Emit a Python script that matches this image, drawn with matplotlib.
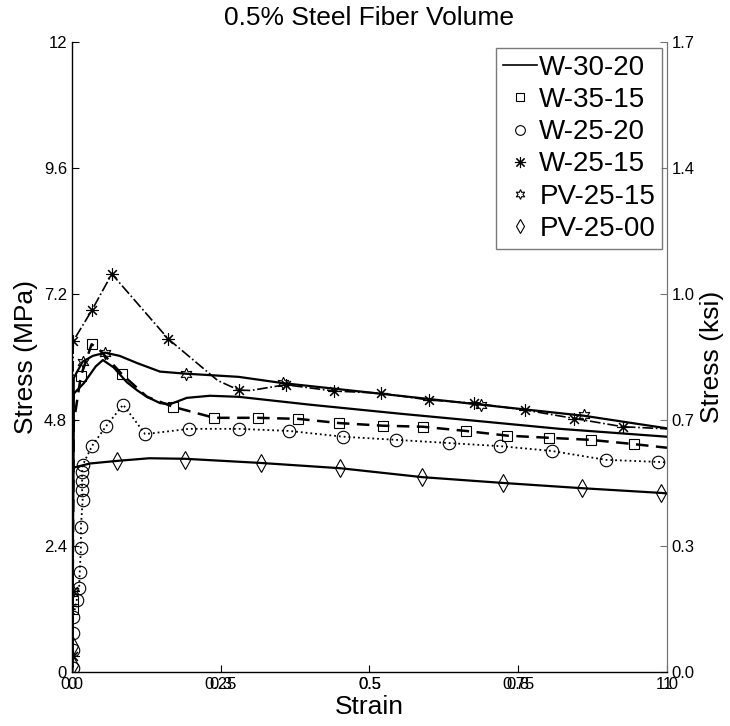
import matplotlib
matplotlib.use("Agg")
import matplotlib.pyplot as plt
from matplotlib.lines import Line2D

plt.rcParams["font.family"] = ["Liberation Sans", "DejaVu Sans"]

MPA_POR_KSI = 6.895

# W-30-20 (linha continua, sem marcador)
w3020_x = [0, 0.001, 0.003, 0.02, 0.04, 0.052, 0.07, 0.092, 0.11, 0.126, 0.148, 0.165,
           0.193, 0.232, 0.28, 0.4, 0.55, 0.7, 0.82, 1.0]
w3020_y = [0, 2.0, 5.3, 5.5, 5.82, 5.94, 5.8, 5.52, 5.36, 5.24, 5.12, 5.10,
           5.22, 5.26, 5.24, 5.09, 4.92, 4.76, 4.63, 4.48]

# W-35-15 (tracejada, quadrados)
w3515_x = [0, 0.001, 0.003, 0.015, 0.033, 0.045, 0.084, 0.126, 0.17, 0.239, 0.312, 0.38,
           0.449, 0.522, 0.59, 0.662, 0.732, 0.801, 0.872, 0.944, 1.0]
w3515_y = [0, 1.2, 4.75, 5.64, 6.24, 6.15, 5.67, 5.24, 5.05, 4.84, 4.84, 4.82,
           4.74, 4.69, 4.67, 4.59, 4.50, 4.46, 4.42, 4.34, 4.27]
w3515_mx = [0.001, 0.001, 0.015, 0.033, 0.084, 0.17, 0.239, 0.312, 0.38, 0.449, 0.522,
            0.59, 0.662, 0.732, 0.801, 0.872, 0.944]
w3515_my = [1.2, 1.35, 5.64, 6.24, 5.67, 5.05, 4.84, 4.84, 4.82, 4.74, 4.69,
            4.67, 4.59, 4.50, 4.46, 4.42, 4.34]

# W-25-20 (pontilhada, circulos)
w2520_x = [0, 0.002, 0.001, 0.001, 0.002, 0.008, 0.012, 0.013, 0.015, 0.015, 0.018, 0.017,
           0.017, 0.017, 0.018, 0.034, 0.058, 0.086, 0.123, 0.197, 0.281, 0.365, 0.456,
           0.545, 0.633, 0.72, 0.806, 0.897, 0.985, 1.0]
w2520_y = [0, 0.07, 0.42, 0.74, 1.05, 1.37, 1.6, 1.9, 2.36, 2.76, 3.28, 3.47,
           3.64, 3.81, 3.94, 4.31, 4.69, 5.09, 4.53, 4.63, 4.63, 4.59, 4.48,
           4.42, 4.36, 4.30, 4.21, 4.04, 4.00, 3.99]
w2520_mx = w2520_x[1:-1]
w2520_my = w2520_y[1:-1]

# W-25-15 (traco-ponto, asteriscos)
w2515_x = [0, 0.001, 0.002, 0.034, 0.067, 0.162, 0.224, 0.245, 0.28, 0.3, 0.359, 0.44,
           0.519, 0.6, 0.675, 0.761, 0.843, 0.926, 1.0]
w2515_y = [0, 1.55, 6.30, 6.90, 7.58, 6.34, 5.75, 5.55, 5.37, 5.36, 5.47, 5.35,
           5.31, 5.18, 5.12, 4.99, 4.83, 4.67, 4.63]
w2515_mx = [0.001, 0.001, 0.002, 0.034, 0.067, 0.162, 0.28, 0.359, 0.44, 0.519, 0.6,
            0.675, 0.761, 0.843, 0.926]
w2515_my = [0.3, 1.55, 6.30, 6.90, 7.58, 6.34, 5.37, 5.47, 5.35, 5.31, 5.18,
            5.12, 4.99, 4.82, 4.67]

# PV-25-15 (continua, hexagramas)
pv2515_x = [0, 0.001, 0.003, 0.018, 0.035, 0.056, 0.08, 0.11, 0.148, 0.192, 0.28, 0.355,
            0.518, 0.687, 0.86, 1.0]
pv2515_y = [0, 1.6, 5.6, 5.91, 6.02, 6.08, 6.02, 5.88, 5.72, 5.68, 5.62, 5.50,
            5.30, 5.09, 4.88, 4.64]
pv2515_mx = [0.001, 0.018, 0.056, 0.192, 0.355, 0.687, 0.86]
pv2515_my = [1.55, 5.91, 6.08, 5.68, 5.50, 5.09, 4.90]

# PV-25-00 (continua, losangos)
pv2500_x = [0, 0.001, 0.002, 0.03, 0.076, 0.13, 0.19, 0.318, 0.451, 0.589, 0.724, 0.857,
            0.99, 1.0]
pv2500_y = [0, 0.13, 3.89, 3.97, 4.02, 4.07, 4.06, 3.98, 3.88, 3.71, 3.60, 3.50,
            3.41, 3.40]
pv2500_mx = [0.001, 0.001, 0.076, 0.19, 0.318, 0.451, 0.589, 0.724, 0.857, 0.99]
pv2500_my = [0.13, 0.5, 4.02, 4.04, 3.98, 3.88, 3.71, 3.60, 3.50, 3.41]

ticks_y = [0, 2.4, 4.8, 7.2, 9.6, 12]
rotulos_y = ["0", "2.4", "4.8", "7.2", "9.6", "12"]
ticks_x = [0, 0.25, 0.5, 0.75, 1.0]
rotulos_x = ["0.0", "0.25", "0.5", "0.75", "1.0"]
rotulos_x2 = ["0", "0.3", "0.5", "0.8", "1"]

ASTER = (8, 2, 0)
HEXA = (6, 1, 0)

fig = plt.figure(figsize=(7.3, 7.26), dpi=100)
ax = fig.add_axes([0.0986, 0.0744, 0.815, 0.868])

ax.plot(w3020_x, w3020_y, "k-", lw=1.6)
ax.plot(w3515_x, w3515_y, "k--", lw=1.8, dashes=(5, 3))
ax.plot(w3515_mx, w3515_my, ls="none", marker="s", ms=7, mfc="none", mec="k", mew=0.8)
ax.plot(w2520_x, w2520_y, "k:", lw=1.3)
ax.plot(w2520_mx, w2520_my, ls="none", marker="o", ms=9, mfc="none", mec="k", mew=0.8)
ax.plot(w2515_x, w2515_y, "k-.", lw=1.2)
ax.plot(w2515_mx, w2515_my, ls="none", marker=ASTER, ms=9, mfc="none", mec="k", mew=0.8)
ax.plot(pv2515_x, pv2515_y, "k-", lw=1.6)
ax.plot(pv2515_mx, pv2515_my, ls="none", marker=HEXA, ms=9, mfc="none", mec="k", mew=0.8)
ax.plot(pv2500_x, pv2500_y, "k-", lw=1.6)
ax.plot(pv2500_mx, pv2500_my, ls="none", marker="d", ms=9, mfc="none", mec="k", mew=0.8)

ax.set_xlim(0, 1.0)
ax.set_ylim(0, 12)
ax.set_xticks(ticks_x)
ax.set_xticklabels(rotulos_x)
ax.set_yticks(ticks_y)
ax.set_yticklabels(rotulos_y)
ax.tick_params(direction="in", length=5, labelsize=12, width=0.8)
ax.spines["top"].set_visible(False)
ax.spines["right"].set_color("0.45")
for lado in ["left", "bottom"]:
    ax.spines[lado].set_linewidth(1.0)

# rotulos sobrepostos do segundo eixo (como no plotyy)
sec_x = ax.secondary_xaxis("bottom")
sec_x.set_xticks(ticks_x)
sec_x.set_xticklabels(rotulos_x2)
sec_x.tick_params(length=0, labelsize=12)
sec_x.spines["bottom"].set_visible(False)

sec_y = ax.secondary_yaxis("right", functions=(lambda v: v / MPA_POR_KSI,
                                                lambda v: v * MPA_POR_KSI))
sec_y.set_yticks([t / MPA_POR_KSI for t in ticks_y])
sec_y.set_yticklabels([f"{t / MPA_POR_KSI:.1f}" for t in ticks_y])
sec_y.tick_params(direction="in", length=5, labelsize=12, color="0.45")
sec_y.spines["right"].set_color("0.45")
sec_y.set_ylabel("Stress (ksi)", fontsize=19, labelpad=4)

ax.set_title("0.5% Steel Fiber Volume", fontsize=19, pad=12)
ax.set_xlabel("Strain", fontsize=19, labelpad=2)
ax.set_ylabel("Stress (MPa)", fontsize=19, labelpad=4)

handles = [
    Line2D([], [], color="k", lw=1.2),
    Line2D([], [], ls="none", marker="s", ms=6, mfc="none", mec="k", mew=0.8),
    Line2D([], [], ls="none", marker="o", ms=7, mfc="none", mec="k", mew=0.8),
    Line2D([], [], ls="none", marker=ASTER, ms=8, mfc="none", mec="k", mew=0.8),
    Line2D([], [], ls="none", marker=HEXA, ms=7, mfc="none", mec="k", mew=0.8),
    Line2D([], [], ls="none", marker="d", ms=7, mfc="none", mec="k", mew=0.8),
]
nomes = ["W-30-20", "W-35-15", "W-25-20", "W-25-15", "PV-25-15", "PV-25-00"]
leg = ax.legend(handles, nomes, loc="upper right", bbox_to_anchor=(0.992, 0.99),
                fontsize=20, frameon=True, fancybox=False, handlelength=1.2,
                handletextpad=0.1, labelspacing=0.22, borderpad=0.25, borderaxespad=0)
leg.get_frame().set_edgecolor("0.35")
leg.get_frame().set_linewidth(1.0)

fig.savefig("out.png", dpi=100)
